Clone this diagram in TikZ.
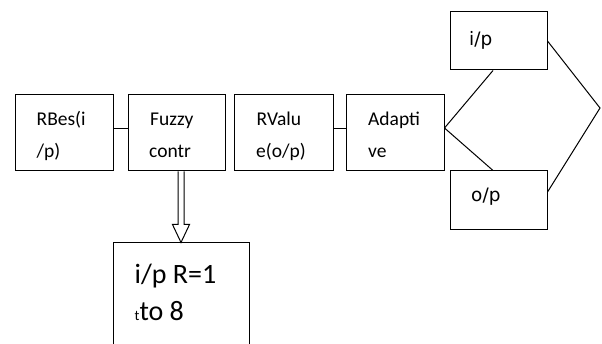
\documentclass[tikz,border=0pt]{standalone}
\usepackage{fontspec}
\setmainfont{Carlito}
\newfontfamily\dejavu{DejaVu Sans}
\usetikzlibrary{calc}
\tikzset{
  box/.style={draw, line width=1pt, rectangle, inner sep=0pt},
  txt/.style={anchor=base west, inner sep=0pt, font=\fontsize{19.5}{24}\selectfont},
  sidetxt/.style={anchor=base west, inner sep=0pt, font=\dejavu\fontsize{18.5}{22}\selectfont},
  bigtxt/.style={anchor=base west, inner sep=0pt, font=\fontsize{28}{34}\selectfont},
  wire/.style={line width=1pt}
}
\begin{document}
\begin{tikzpicture}[x=1pt,y=-1pt]
\clip (0,0) rectangle (602,344);
\fill[white] (0,0) rectangle (602,344);

% main chain of blocks
\node[box, minimum width=98pt, minimum height=76pt] (b1) at (64,133) {};
\node[box, minimum width=97pt, minimum height=76pt] (b2) at (176.5,133) {};
\node[box, minimum width=99pt, minimum height=76pt] (b3) at (283.5,133) {};
\node[box, minimum width=98pt, minimum height=76pt] (b4) at (395,133) {};

% side blocks
\node[box, minimum width=97pt, minimum height=58pt] (ip) at (498.5,41) {};
\node[box, minimum width=97pt, minimum height=59pt] (op) at (498.5,200.5) {};

% lower block
\node[box, minimum width=136pt, minimum height=117pt] (bot) at (181,301.5) {};

% block texts
\node[txt] (t1a) at (36.5,125.7) {RBes(i};
\node[txt] (t1b) at (36.5,157.5) {/p)};
\node[txt] (t2a) at (150,125.7) {Fuzzy};
\node[txt] (t2b) at (149,157.5) {contr};
\node[txt] (t3a) at (256.5,125.7) {RValu};
\node[txt] (t3b) at (256,157.5) {e(o/p)};
\node[txt] (t4a) at (368,125.7) {Adapti};
\node[txt] (t4b) at (368,157.5) {ve};
\node[sidetxt] (tip) at (469,46) {i/p};
\node[sidetxt] (top) at (471,201.5) {o/p};
\node[bigtxt] (t5a) at (134.5,284) {i/p R=1};
\node[bigtxt] (t5b) at (134.5,320) {{\fontsize{14.5}{16}\selectfont t}to 8};

% connectors
\draw[wire] ([yshift=4pt]b1.east) -- ([yshift=4pt]b2.west);
\draw[wire] ([yshift=4pt]b3.east) -- ([yshift=4pt]b4.west);
\coordinate (fork) at ([yshift=5pt]b4.east);
\draw[wire] (fork) -- ([xshift=-5.5pt]ip.south);
\draw[wire] (fork) -- ([xshift=-5.5pt]op.north);
\coordinate (apex) at (600,108);
\draw[wire] (ip.east) -- (apex) -- ([yshift=8.5pt]op.east);

% hollow block arrow down to the lower block
\coordinate (s) at (bot.north |- b2.south);
\draw[wire, line join=miter]
  ($(s)+(-3,0)$) -- ($(bot.north)+(-3,-18)$) -- ($(bot.north)+(-8.5,-18)$)
  -- (bot.north) -- ($(bot.north)+(8.5,-18)$) -- ($(bot.north)+(3,-18)$)
  -- ($(s)+(3,0)$);
\end{tikzpicture}
\end{document}
